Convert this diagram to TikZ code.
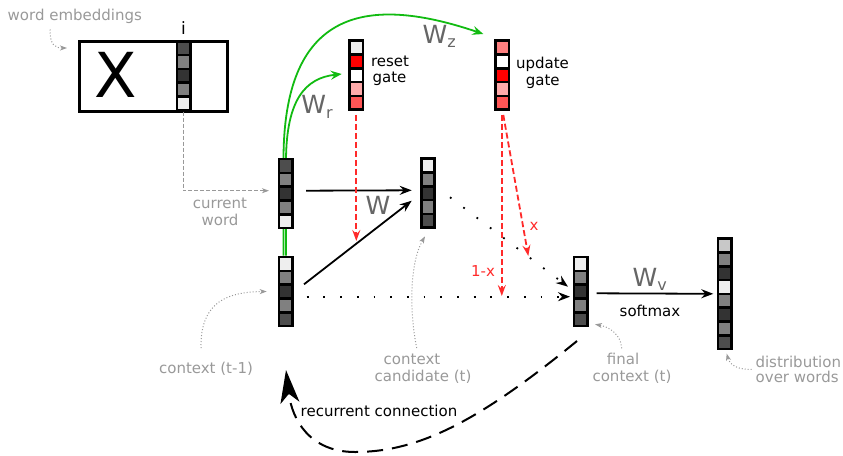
\documentclass[tikz,border=0pt]{standalone}
\usepackage{fontspec}
\setmainfont{DejaVu Sans}
\usetikzlibrary{arrows.meta,calc,backgrounds}

\definecolor{lgray}{HTML}{999999}
\definecolor{wgray}{HTML}{666666}
\definecolor{mygreen}{HTML}{11BB11}
\definecolor{myred}{HTML}{FF2A2A}
\definecolor{g33}{HTML}{333333}
\definecolor{g4d}{HTML}{4D4D4D}
\definecolor{g80}{HTML}{808080}
\definecolor{gcc}{HTML}{C8C8C8}
\definecolor{gee}{HTML}{EEEEEE}
\definecolor{rff}{HTML}{FF0000}
\definecolor{raa}{HTML}{FFAAAA}
\definecolor{r55}{HTML}{FF5555}
\definecolor{r80}{HTML}{FF8080}

\tikzset{
  vecframe/.style={fill=black, inner sep=0pt, outer sep=0pt, minimum width=16pt},
  lbl/.style={font=\fontsize{15}{18}\selectfont, inner sep=0pt},
  glbl/.style={lbl, text=lgray},
  wlbl/.style={font=\fontsize{25}{30}\selectfont, text=wgray, inner sep=0pt},
  blackarr/.style={line width=1.8pt, -{Stealth[length=12pt,width=9pt,inset=4pt]}},
  dotarr/.style={line width=1.8pt, dash pattern=on 1.8pt off 14.9pt, -{Stealth[length=12pt,width=9pt,inset=4pt]}},
  redarr/.style={draw=myred, line width=1.8pt, dash pattern=on 6pt off 3pt, -{Stealth[length=11pt,width=8pt,inset=4pt]}},
  greenarr/.style={draw=mygreen, line width=1.8pt, -{Stealth[length=11pt,width=9pt,inset=4pt]}},
  grayarr/.style={draw=lgray, line width=1pt, dash pattern=on 1pt off 2pt, -{Stealth[length=7pt,width=5pt,inset=2pt]}},
  graydash/.style={draw=lgray, line width=1pt, dash pattern=on 4pt off 2pt, -{Stealth[length=7pt,width=5pt,inset=2pt]}},
  recarr/.style={line width=2pt, dash pattern=on 16pt off 9pt, -{Stealth[length=33pt,width=19pt,inset=9pt]}}
}

\newcommand{\cellvec}[4]{%
  \node[vecframe, minimum height=#3*13.8pt+2.6pt, anchor=north] (#1) at #2 {};
  \foreach \cc [count=\kk from 0] in {#4}
    \fill[fill=\cc] ([xshift=2.6pt,yshift=-2.6pt-\kk*13.8pt]#1.north west) rectangle ++(10.8pt,-11.2pt);
}

\begin{document}
\begin{tikzpicture}[x=1pt,y=-1pt]
\useasboundingbox (0,0) rectangle (843,455);

% embedding matrix
\node[draw, line width=3pt, minimum width=148.3pt, minimum height=69.7pt, inner sep=0pt] (xbox) at (153.65,76.35) {};
\node[font=\fontsize{62}{62}\selectfont, anchor=base, inner sep=0pt] (xlet) at (115.5,97.7) {X};
\node[font=\fontsize{17}{17}\selectfont, anchor=base, inner sep=0pt] (ilbl) at (183.5,34.3) {i};

% vectors
\cellvec{xcol}{(183.5,40)}{5}{g4d,g80,g33,g80,gee}
\cellvec{curword}{(285.5,157.7)}{5}{g4d,g80,g33,g80,gee}
\cellvec{ctxp}{(285.5,255.7)}{5}{gee,g80,g33,g80,g4d}
\cellvec{cand}{(428,157.3)}{5}{gee,g80,g33,g80,g4d}
\cellvec{final}{(580.7,255.7)}{5}{gee,g80,g33,g80,g4d}
\cellvec{dist}{(724.7,237.3)}{8}{gcc,g80,g33,gee,g80,g33,g80,g4d}
\cellvec{reset}{(356.3,39.3)}{5}{gee,rff,white,raa,r55}
\cellvec{update}{(502.3,39.3)}{5}{r80,white,rff,raa,r55}

% green connections (behind the vectors)
\begin{scope}[on background layer]
\draw[greenarr] ([xshift=-2pt]ctxp.north) -- ++(0,-96) .. controls (283.5,15) and (360,-8) .. ([xshift=-11pt,yshift=5.3pt]update.north west);
\draw[greenarr] ([xshift=0.5pt]ctxp.north) -- ++(0,-96) .. controls (286.5,100) and (305,78) .. ([xshift=-6.6pt,yshift=1.1pt]reset.west);
\end{scope}

% labels
\node[glbl, anchor=base west] (wordemb) at (7.5,20.5) {word embeddings};
\node[glbl, anchor=base] (cw1) at (220,208.3) {current};
\node[glbl, anchor=base] (cw2) at (220,225) {word};
\node[glbl, anchor=base] (ctxlbl) at (206,373) {context (t-1)};
\node[glbl, anchor=base] (cand1) at (412,364) {context};
\node[glbl, anchor=base] (cand2) at (423,381.7) {candidate (t)};
\node[glbl, anchor=base] (fin1) at (623,364) {final};
\node[glbl, anchor=base] (fin2) at (632,381.7) {context (t)};
\node[glbl, anchor=base west] (dist1) at (755.3,367.3) {distribution};
\node[glbl, anchor=base west] (dist2) at (755.5,382.3) {over words};

\node[lbl, anchor=base] (rs1) at (390,66) {reset};
\node[lbl, anchor=base] (rs2) at (389.5,82.7) {gate};
\node[lbl, anchor=base] (up1) at (542.5,68.3) {update};
\node[lbl, anchor=base] (up2) at (542.8,85.5) {gate};
\node[lbl, anchor=base] (smax) at (650,316) {softmax};
\node[lbl, anchor=base] (reclbl) at (379,416.7) {recurrent connection};
\node[lbl, text=myred, anchor=base] (omx) at (483,276) {1-x};
\node[lbl, text=myred, anchor=base] (xx) at (534,230.7) {x};

\node[wlbl, anchor=base west] (wz) at (422.5,43) {W\raisebox{-4pt}{\fontsize{16}{16}\selectfont z}};
\node[wlbl, anchor=base west] (wr) at (301.2,113.3) {W\raisebox{-5pt}{\fontsize{16}{16}\selectfont r}};
\node[wlbl, anchor=base west] (w) at (365.5,214) {W};
\node[wlbl, anchor=base west] (wv) at (632.5,286.7) {W\raisebox{-3.5pt}{\fontsize{16}{16}\selectfont v}};

% gray helper arrows
\coordinate (weA) at (50,29.5);
\coordinate (weB) at (67,48);
\draw[grayarr] (weA) .. controls (50,45) and (55,48) .. (weB);
\draw[graydash] (xcol.south) |- ([xshift=-8.5pt,yshift=2.8pt]curword.west);
\coordinate (ctA) at (201,348);
\draw[grayarr] (ctA) .. controls (200,300) and (230,292) .. ([xshift=-10.8pt]ctxp.west);
\coordinate (caA) at (416.7,348);
\draw[grayarr] (caA) .. controls (409,310) and (410,262) .. ([xshift=-3pt,yshift=-7.5pt]cand.south);
\coordinate (fiA) at (621.7,348.3);
\draw[grayarr] (fiA) .. controls (621,335) and (610,327) .. ([xshift=6.3pt,yshift=3pt]final.south east);
\coordinate (diA) at (751.7,369.3);
\draw[grayarr] (diA) .. controls (740,370) and (730,366) .. ([xshift=2pt,yshift=-3.3pt]dist.south);

% black connections
\draw[blackarr] ([xshift=12.5pt,yshift=2.8pt]curword.east) -- ([xshift=-8.3pt,yshift=2.8pt]cand.west);
\draw[blackarr] ([xshift=10.5pt,yshift=7.2pt]ctxp.east) -- ([xshift=-8.3pt,yshift=-7.6pt]cand.west);
\draw[dotarr] ([xshift=13.2pt,yshift=-5.2pt]ctxp.east) -- ([xshift=-2.7pt,yshift=-5.2pt]final.west);
\draw[dotarr] ([xshift=14pt,yshift=-4.2pt]cand.east) -- ([xshift=-4.7pt,yshift=4.8pt]final.west);
\draw[blackarr] ([xshift=8pt,yshift=-1.8pt]final.east) -- ([xshift=-3.4pt]dist.west);

% red gate connections
\coordinate (rx) at (356.3,241);
\coordinate (uxa) at (501.8,296);
\coordinate (uxb) at (528.3,256);
\draw[redarr] ([yshift=-4pt]reset.south) -- (rx);
\draw[redarr] ([xshift=-0.5pt,yshift=-4pt]update.south) -- (uxa);
\draw[redarr] ([xshift=1pt,yshift=-4pt]update.south) -- (uxb);

% recurrent connection
\coordinate (rstart) at (577,341);
\coordinate (rend) at (286,370);
\draw[recarr] (rstart) .. controls (480,420) and (420,452) .. (355,452) .. controls (310,452) and (292,420) .. (rend);
\end{tikzpicture}
\end{document}
